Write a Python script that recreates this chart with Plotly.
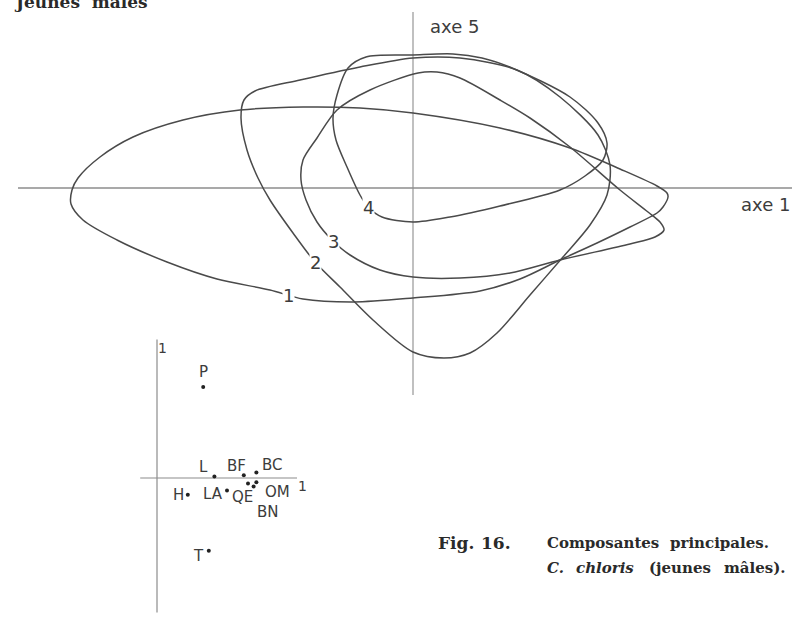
import plotly.graph_objects as go

# ---- Main plane (axe 1 / axe 5): outline of each group's score cloud ----
c1_x = [2.55, 2.50, 2.44, 2.17, 1.84, 1.47, 1.07, 0.67, 0.00, -0.59, -1.10, -1.43, -1.96, -2.46,
        -2.96, -3.30, -3.42, -3.41, -3.35, -3.13, -2.80, -2.30, -1.73, -1.10, -0.53, 0.00, 0.87,
        1.57, 2.07, 2.44, 2.54, 2.55]
c1_y = [-0.09, -0.19, -0.25, -0.39, -0.55, -0.72, -0.91, -1.03, -1.10, -1.14, -1.11, -1.02, -0.91,
        -0.74, -0.52, -0.32, -0.16, -0.02, 0.10, 0.31, 0.51, 0.68, 0.78, 0.81, 0.80, 0.75, 0.60,
        0.40, 0.19, 0.02, -0.05, -0.09]

c2_x = [0.31, 0.00, -0.40, -0.73, -0.98, -1.20, -1.43, -1.55, -1.66, -1.72, -1.69, -1.58, -1.13,
        -0.53, 0.00, 0.47, 1.04, 1.47, 1.85, 1.97, 1.94, 1.77, 1.50, 1.17, 0.84, 0.57, 0.31]
c2_y = [-1.70, -1.64, -1.32, -0.99, -0.74, -0.45, -0.12, 0.10, 0.38, 0.70, 0.88, 0.97, 1.08,
        1.21, 1.30, 1.30, 1.18, 0.91, 0.53, 0.23, -0.07, -0.37, -0.69, -1.07, -1.45, -1.65, -1.70]

c3_x = [2.51, 2.47, 2.35, 2.07, 1.57, 1.17, 0.87, 0.47, 0.24, 0.05, -0.43, -0.76, -0.96, -1.10,
        -1.12, -1.07, -0.96, -0.81, -0.63, -0.33, 0.00, 0.47, 0.97, 1.47, 2.17, 2.42, 2.51]
c3_y = [-0.42, -0.34, -0.24, -0.02, 0.41, 0.70, 0.88, 1.10, 1.16, 1.15, 0.98, 0.78, 0.50, 0.28,
        0.08, -0.12, -0.34, -0.52, -0.67, -0.82, -0.89, -0.90, -0.85, -0.72, -0.56, -0.49, -0.42]

c4_x = [0.00, -0.31, -0.45, -0.53, -0.66, -0.77, -0.80, -0.76, -0.65, -0.47, 0.00, 0.40, 0.69,
        0.99, 1.57, 1.85, 1.94, 1.90, 1.72, 1.47, 0.87, 0.37, 0.00]
c4_y = [-0.34, -0.29, -0.19, -0.07, 0.21, 0.48, 0.70, 0.93, 1.20, 1.31, 1.33, 1.34, 1.30,
        1.20, 0.91, 0.65, 0.45, 0.28, 0.12, -0.02, -0.18, -0.29, -0.34]

curve_names = ["1", "2", "3", "4"]
curve_label_x = [-1.25, -0.98, -0.80, -0.45]
curve_label_y = [-1.07, -0.74, -0.53, -0.19]

# extent of the drawn main axes
axis1_extent = [-3.95, 3.79]
axis5_extent = [-2.07, 1.76]

# ---- Correlation plane of the variables (inset) ----
var_names = ["P", "L", "BF", "BC", "H", "LA", "QE", "OM", "BN", "T"]
var_x = [0.33, 0.41, 0.62, 0.71, 0.22, 0.50, 0.65, 0.71, 0.69, 0.37]
var_y = [0.65, 0.01, 0.02, 0.04, -0.12, -0.09, -0.04, -0.03, -0.06, -0.52]
# label offsets around each point (pixels: right, up)
var_dx = [0, -11, -7, 16, -9, -14, -6, 21, 14, -10]
var_dy = [15, 10, 9, 7, 0, -3, -13, -10, -26, -5]

inset_h_extent = [-0.12, 1.0]
inset_v_extent = [-0.96, 0.99]

W, H = 796, 617
CURVE = "#4a4a4a"
AXIS = "#8c8c8c"
TEXT = "#3c3c3c"
SANS = "DejaVu Sans"
SERIF = "DejaVu Serif"

fig = go.Figure()

# main axes
fig.add_trace(go.Scatter(x=axis1_extent, y=[0, 0], mode="lines",
                         line=dict(color=AXIS, width=1.3), xaxis="x", yaxis="y", hoverinfo="skip"))
fig.add_trace(go.Scatter(x=[0, 0], y=axis5_extent, mode="lines",
                         line=dict(color=AXIS, width=1.1), xaxis="x", yaxis="y", hoverinfo="skip"))

for cx, cy in [(c1_x, c1_y), (c2_x, c2_y), (c3_x, c3_y), (c4_x, c4_y)]:
    fig.add_trace(go.Scatter(x=cx, y=cy, mode="lines",
                             line=dict(color=CURVE, width=1.5, shape="spline", smoothing=0.85),
                             xaxis="x", yaxis="y", hoverinfo="skip"))

# inset axes
fig.add_trace(go.Scatter(x=inset_h_extent, y=[0, 0], mode="lines",
                         line=dict(color=AXIS, width=1.2), xaxis="x2", yaxis="y2", hoverinfo="skip"))
fig.add_trace(go.Scatter(x=[0, 0], y=inset_v_extent, mode="lines",
                         line=dict(color=AXIS, width=1.2), xaxis="x2", yaxis="y2", hoverinfo="skip"))
fig.add_trace(go.Scatter(x=var_x, y=var_y, mode="markers",
                         marker=dict(color="#222222", size=4), xaxis="x2", yaxis="y2",
                         hoverinfo="skip"))

annotations = []
for name, lx, ly in zip(curve_names, curve_label_x, curve_label_y):
    annotations.append(dict(x=lx, y=ly, xref="x", yref="y", text=name, showarrow=False,
                            font=dict(family=SANS, size=18, color=TEXT),
                            bgcolor="white", borderpad=0))

annotations.append(dict(x=0.41, y=1.62, xref="x", yref="y", text="axe 5", showarrow=False,
                        font=dict(family=SANS, size=18, color=TEXT)))
annotations.append(dict(x=3.52, y=-0.16, xref="x", yref="y", text="axe 1", showarrow=False,
                        font=dict(family=SANS, size=18, color=TEXT)))

for name, vx, vy, dx, dy in zip(var_names, var_x, var_y, var_dx, var_dy):
    annotations.append(dict(x=vx, y=vy, xref="x2", yref="y2", text=name, showarrow=False,
                            xshift=dx, yshift=dy,
                            font=dict(family=SANS, size=15, color=TEXT)))
annotations.append(dict(x=0.04, y=0.93, xref="x2", yref="y2", text="1", showarrow=False,
                        font=dict(family=SANS, size=14, color=TEXT)))
annotations.append(dict(x=1.04, y=-0.06, xref="x2", yref="y2", text="1", showarrow=False,
                        font=dict(family=SANS, size=14, color=TEXT)))


def px(x, y):
    return x / W, 1 - y / H


# heading (runs off the top edge of the page)
hx, hy = px(12, 2)
annotations.append(dict(x=hx, y=hy, xref="paper", yref="paper", xanchor="left", yanchor="middle",
                        text="<b>Jeunes\u00a0\u00a0mâles</b>", showarrow=False,
                        font=dict(family=SERIF, size=17, color="#2a2a2a")))

# caption
cap = [
    (436, 543, "<b>Fig.</b>", 17),
    (479, 543, "<b>16.</b>", 17),
    (545, 543, "<b>Composantes</b>", 15),
    (668, 543, "<b>principales.</b>", 15),
    (545, 568, "<b><i>C.</i></b>", 15),
    (574, 568, "<b><i>chloris</i></b>", 15),
    (647, 568, "<b>(jeunes</b>", 15),
    (722, 568, "<b>mâles).</b>", 15),
]
for cx_, cy_, t, s in cap:
    ax_, ay_ = px(cx_, cy_)
    annotations.append(dict(x=ax_, y=ay_, xref="paper", yref="paper", xanchor="left",
                            yanchor="middle", text=t, showarrow=False,
                            font=dict(family=SERIF, size=s, color="#2a2a2a")))

hidden = dict(visible=False, showgrid=False, zeroline=False, fixedrange=True)

fig.update_layout(
    width=W, height=H,
    margin=dict(l=0, r=0, t=0, b=0),
    paper_bgcolor="white", plot_bgcolor="rgba(0,0,0,0)",
    showlegend=False,
    xaxis=dict(range=[-4.13, 3.83], domain=[0, 1], anchor="y", **hidden),
    yaxis=dict(range=[-4.29, 1.88], domain=[0, 1], anchor="x", **hidden),
    xaxis2=dict(range=[-1.1214, 4.5643], domain=[0, 1], anchor="y2", **hidden),
    yaxis2=dict(range=[-0.9929, 3.4143], domain=[0, 1], anchor="x2", **hidden),
    annotations=annotations,
)

fig.write_html("out.html")
